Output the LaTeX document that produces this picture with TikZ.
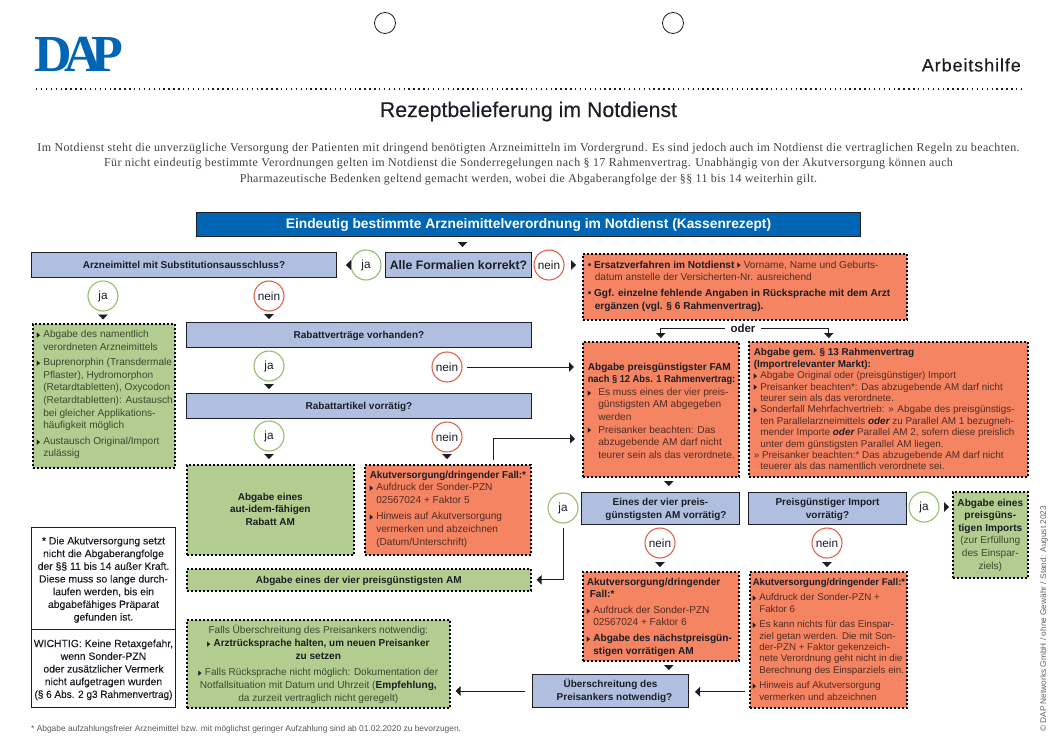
\documentclass[tikz,border=0pt]{standalone}
\usepackage{fontspec}
\setmainfont{Liberation Sans}
\newfontfamily\serifx[LetterSpace=3.2]{Liberation Serif}
\newfontfamily\logofont{Liberation Serif}
\newfontfamily\dejavu{DejaVu Sans}
\newfontfamily\medfont[FakeBold=0.25]{Liberation Sans}
\newfontfamily\arbfont[FakeBold=0.3,LetterSpace=5]{Liberation Sans}
\newfontfamily\titlefont[FakeBold=0.3]{Liberation Sans}
\usetikzlibrary{arrows.meta,calc}
\definecolor{hdrblue}{HTML}{0066B3}
\definecolor{qblue}{HTML}{B0BFE0}
\definecolor{okgreen}{HTML}{B3CC8F}
\definecolor{warnred}{HTML}{F58462}
\definecolor{ringgreen}{HTML}{96BC6E}
\definecolor{ringred}{HTML}{E0604C}
\definecolor{ink}{HTML}{1C1E26}
\definecolor{bodyg}{HTML}{3C4A32}
\definecolor{bodyr}{HTML}{4F2E24}
\newcommand{\fsz}[2]{\fontsize{#1}{#2}\selectfont}
\newcommand{\tb}{\makebox[6.5pt][l]{\raisebox{.1pt}{\textcolor{ink}{\scalebox{.62}[1]{\dejavu\fontsize{7.2}{7}\selectfont ▶}}}}}
\newcommand{\ind}{\hspace*{6.5pt}}
\newcommand{\bd}[1]{{\color{ink}\bfseries #1}}
\newcommand{\cnd}[2]{\scalebox{#1}[1]{#2}}
\newcommand{\bx}[9]{\pgfmathsetmacro\bxw{#5-#3}\pgfmathsetmacro\bxh{#6-#4}%
  \def\bxgo##1{\node[#2,anchor=north west,minimum width=\bxw pt,minimum height=\bxh pt,inner sep=0pt](#1) at (#3,#4){\makebox[\bxw pt][#7]{\hspace{#8pt}\raisebox{\dimexpr#9pt-.38em\relax}[0pt][0pt]{\begin{tabular}{@{}#7@{}}##1\end{tabular}}}};}\bxgo}
\tikzset{
  dotbox/.style={draw=black,line width=1.6pt,dash pattern=on 1.7pt off 2.3pt},
  grn/.style={dotbox,fill=okgreen,text=bodyg,font=\fsz{10.1}{12.6}},
  rd/.style={dotbox,fill=warnred,text=bodyr,font=\fsz{10.1}{12.6}},
  qb/.style={draw=ink,line width=1pt,fill=qblue,text=ink,font=\bfseries\fsz{10}{12.6}},
  whitebox/.style={draw=ink,line width=1pt,fill=white,text=ink,font=\medfont\fsz{10.4}{12.7}},
  yes/.style={circle,draw=ringgreen,line width=1.1pt,fill=white,minimum size=30pt,inner sep=0pt,text=ink,font=\fsz{11.8}{12}},
  no/.style={circle,draw=ringred,line width=1.1pt,fill=white,minimum size=30pt,inner sep=0pt,text=ink,font=\fsz{11.8}{12}},
  tip/.style={draw=ink,line width=.2pt,-{Triangle[length=5pt,width=9.5pt]}},
  conn/.style={draw=ink,line width=1pt,-{Triangle[length=5pt,width=9.5pt]}},
  hole/.style={circle,draw=ink,line width=.8pt,minimum size=21pt,inner sep=0pt},
}
\begin{document}
\begin{tikzpicture}[x=1pt,y=-1pt]
\useasboundingbox (0,0) rectangle (1061,747);
% header
\node[hole] (h1) at (385,23) {};
\node[hole] (h2) at (673,23) {};
\node[anchor=center,inner sep=0pt,text=hdrblue,font=\logofont\bfseries\fsz{52}{52}] (logo) at (79,54) {D\kern-.16em A\kern-.2em P};
\node[anchor=east,inner sep=0pt,text=ink,font=\arbfont\fsz{18}{18}] (arb) at (1021,65) {Arbeitshilfe};
\coordinate (dl) at (36,89); \coordinate (dr) at (1021,89);
\draw[ink,line width=1.4pt,dash pattern=on 1.4pt off 3.5pt] (dl) -- (dr);
\node[inner sep=0pt,text=ink,font=\titlefont\fsz{21.3}{22}] (title) at (528.5,111.5) {Rezeptbelieferung im Notdienst};
\node[inner sep=0pt,text=ink!85,font=\serifx\fsz{12}{15.7},align=center] (intro) at (528.5,164) {Im Notdienst steht die unverzügliche Versorgung der Patienten mit dringend benötigten Arzneimitteln im Vordergrund. Es sind jedoch auch im Notdienst die vertraglichen Regeln zu beachten.\\Für nicht eindeutig bestimmte Verordnungen gelten im Notdienst die Sonderregelungen nach § 17 Rahmenvertrag. Unabhängig von der Akutversorgung können auch\\Pharmazeutische Bedenken geltend gemacht werden, wobei die Abgaberangfolge der §§ 11 bis 14 weiterhin gilt.};
% blue
\bx{hdr}{draw=ink,line width=1pt,fill=hdrblue,text=white,font=\bfseries\fsz{13.8}{15}}{196}{212}{860}{236}{c}{0}{.5}{Eindeutig bestimmte Arzneimittelverordnung im Notdienst (Kassenrezept)}
\bx{subst}{qb}{31}{252}{336}{277}{c}{0}{0}{Arzneimittel mit Substitutionsausschluss?}
\bx{form}{qb,font=\bfseries\fsz{12.3}{14}}{385}{252}{531}{277}{c}{0}{0}{Alle Formalien korrekt?}
\bx{rabv}{qb}{186}{322}{531}{347}{c}{0}{0}{Rabattverträge vorhanden?}
\bx{raba}{qb}{186}{393}{531}{418}{c}{0}{0}{Rabattartikel vorrätig?}
\bx{eines}{qb}{581}{492}{739}{524}{c}{0}{0.5}{Eines der vier preis-\\\hspace*{11pt}günstigsten AM vorrätig?}
\bx{pimp}{qb}{748}{492}{906}{524}{c}{0}{0.5}{Preisgünstiger Import\\vorrätig?}
\bx{ueber}{qb}{532}{674}{688}{707}{c}{0}{1}{Überschreitung des\\\hspace*{8pt}Preisankers notwendig?}
% green
\bx{g1}{grn}{32}{323}{174}{467}{l}{4}{2.5}{\tb Abgabe des namentlich\\\ind verordneten Arzneimittels\\[3pt]\tb Buprenorphin (Transdermale\\\ind Pflaster), Hydromorphon\\\ind (Retardtabletten), Oxycodon\\\ind (Retardtabletten): Austausch\\\ind bei gleicher Applikations-\\\ind häufigkeit möglich\\[3pt]\tb Austausch Original/Import\\\ind zulässig}
\bx{g2}{grn,font=\bfseries\fsz{10}{12.6},text=ink}{186}{464}{353}{554}{c}{0}{.8}{Abgabe eines\\aut-idem-fähigen\\Rabatt AM}
\bx{g3}{grn,font=\bfseries\fsz{10}{12.6},text=ink}{186}{568}{530}{590}{c}{0}{0}{Abgabe eines der vier preisgünstigsten AM}
\bx{g4}{grn,font=\fsz{10.1}{12.8}}{186}{619}{449}{707}{c}{0}{0}{Falls Überschreitung des Preisankers notwendig:\\\tb\bd{\cnd{.98}{Arztrücksprache halten, um neuen Preisanker}}\\\bd{zu setzen}\\[3.7pt]\tb\cnd{.985}{Falls Rücksprache nicht möglich: Dokumentation der}\\Notfallsituation mit Datum und Uhrzeit (\bd{Empfehlung,}\\da zurzeit vertraglich nicht geregelt)}
\bx{g5}{grn}{952}{491}{1027}{577}{c}{0}{1}{\bd{Abgabe eines}\\\bd{preisgüns-}\\\bd{tigen Imports}\\(zur Erfüllung\\des Einspar-\\ziels)}
% red
\bx{r1}{rd}{582}{253}{906}{319}{l}{5}{2}{\bd{• Ersatzverfahren im Notdienst} \tb Vorname, Name und Geburts-\\\hspace*{7pt}datum anstelle der Versicherten-Nr. ausreichend\\[3.5pt]\bd{• Ggf. einzelne fehlende Angaben in Rücksprache mit dem Arzt}\\\hspace*{7pt}\bd{ergänzen (vgl. § 6 Rahmenvertrag).}}
\bx{fam}{rd}{582}{341}{738}{476}{l}{5}{-1}{\bd{Abgabe preisgünstigster FAM}\\\bd{\cnd{.92}{nach § 12 Abs. 1 Rahmenvertrag:}}\\\tb\hspace*{4pt}Es muss eines der vier preis-\\\hspace*{10.5pt}günstigsten AM abgegeben\\\hspace*{10.5pt}werden\\\tb\hspace*{4pt}Preisanker beachten: Das\\\hspace*{10.5pt}abzugebende AM darf nicht\\\hspace*{10.5pt}teurer sein als das verordnete.}
\bx{sec}{rd,font=\fsz{9.9}{11.4}}{748}{341}{1027}{476}{l}{5}{0}{\bd{Abgabe gem. § 13 Rahmenvertrag}\\\bd{(Importrelevanter Markt):}\\\tb Abgabe Original oder (preisgünstiger) Import\\\tb Preisanker beachten*: Das abzugebende AM darf nicht\\\ind teurer sein als das verordnete.\\\tb Sonderfall Mehrfachvertrieb: » Abgabe des preisgünstigs-\\\ind ten Parallelarzneimittels \bd{\itshape oder} zu Parallel AM 1 bezugneh-\\\ind mender Importe \bd{\itshape oder} Parallel AM 2, sofern diese preislich\\\ind unter dem günstigsten Parallel AM liegen.\\» Preisanker beachten:* Das abzugebende AM darf nicht\\\ind teuerer als das namentlich verordnete sei.}
\bx{r2}{rd}{364}{464}{530}{554}{l}{5}{2}{\bd{\cnd{.97}{Akutversorgung/dringender Fall:*}}\\\tb Aufdruck der Sonder-PZN\\\ind 02567024 + Faktor 5\\[4pt]\tb Hinweis auf Akutversorgung\\\ind vermerken und abzeichnen\\\ind (Datum/Unterschrift)}
\bx{r3}{rd}{582}{571}{738}{660}{l}{4}{.5}{\bd{Akutversorgung/dringender}\\\hspace*{3pt}\bd{Fall:*}\\[3pt]\tb Aufdruck der Sonder-PZN\\\ind 02567024 + Faktor 6\\[3pt]\tb\bd{Abgabe des nächstpreisgün-}\\\ind\bd{stigen vorrätigen AM}}
\bx{r4}{rd,font=\fsz{9.75}{11.4}}{749}{571}{906}{707}{l}{3}{.5}{\bd{\cnd{.98}{Akutversorgung/dringender Fall:*}}\\[4pt]\tb Aufdruck der Sonder-PZN +\\\ind Faktor 6\\[4pt]\tb Es kann nichts für das Einspar-\\\ind ziel getan werden. Die mit Son-\\\ind der-PZN + Faktor gekenzeich-\\\ind nete Verordnung geht nicht in die\\\ind Berechnung des Einsparziels ein.\\[4pt]\tb Hinweis auf Akutversorgung\\\ind vermerken und abzeichnen}
% white
\bx{w1}{whitebox}{31}{527}{175}{629}{c}{0}{0}{* Die Akutversorgung setzt\\nicht die Abgaberangfolge\\der §§ 11 bis 14 außer Kraft.\\Diese muss so lange durch-\\laufen werden, bis ein\\abgabefähiges Präparat\\gefunden ist.}
\bx{w2}{whitebox}{31}{629}{175}{707}{c}{0}{0}{WICHTIG: Keine Retaxgefahr,\\wenn Sonder-PZN\\oder zusätzlicher Vermerk\\nicht aufgetragen wurden\\\cnd{.96}{(§ 6 Abs. 2 g3 Rahmenvertrag)}}
% circles
\node[yes] (cj0) at (366,265) {ja};
\node[no] (cn0) at (549,265) {nein};
\node[yes] (cj1) at (103,296) {ja};
\node[no] (cn1) at (269,296) {nein};
\node[yes] (cj2) at (269,366) {ja};
\node[no] (cn2) at (447,367) {nein};
\node[yes] (cj3) at (269,436) {ja};
\node[no] (cn3) at (447,437) {nein};
\node[yes] (cj4) at (563,508) {ja};
\node[yes] (cj5) at (924,507) {ja};
\node[no] (cn4) at (660,543) {nein};
\node[no] (cn5) at (827,543) {nein};
% tips only
\draw[tip,shorten <=6pt,shorten >=5pt] ([xshift=4pt]form.north |- hdr.south) -- ([xshift=4pt]form.north);
\draw[tip,shorten <=.5pt,shorten >=9pt] (cj0.west) -- (cj0.west -| subst.east);
\draw[tip,shorten <=7pt,shorten >=6pt] (cn0.east) -- (cn0.east -| r1.west);
\draw[tip,shorten <=3pt,shorten >=3.5pt] (cj1.south) -- (cj1.south |- g1.north);
\draw[tip,shorten <=3pt,shorten >=3pt] (cn1.south) -- (cn1.south |- rabv.north);
\draw[tip,shorten <=3pt,shorten >=4pt] (cj2.south) -- (cj2.south |- raba.north);
\draw[tip,shorten <=3pt,shorten >=5pt] (cj3.south) -- (cj3.south |- g2.north);
\draw[tip,shorten <=2pt,shorten >=5pt] (cn3.south) -- (cn3.south |- r2.north);
\draw[tip,shorten <=6pt,shorten >=6pt] ([xshift=8pt]fam.south) -- ([xshift=8pt]fam.south |- eines.north);
\draw[tip,shorten <=4pt,shorten >=4pt] (cn4.south) -- (cn4.south |- r3.north);
\draw[tip,shorten <=4pt,shorten >=4pt] (cn5.south) -- (cn5.south |- r4.north);
\draw[tip,shorten <=5pt,shorten >=3pt] (cj5.east) -- (cj5.east -| g5.west);
\draw[tip,shorten <=5pt,shorten >=4pt] ([xshift=8pt]r3.south) -- ([xshift=8pt]r3.south |- ueber.north);
% oder
\node[inner sep=0pt,inner xsep=5pt,text=ink,font=\bfseries\fsz{11.5}{12}] (oder) at (743,328) {oder};
\draw[conn,shorten >=3pt] (oder.west) -| (fam.north);
\draw[conn,shorten >=3pt] (oder.east) -| ([xshift=-59.5pt]sec.north);
% connectors
\draw[conn,shorten <=4pt,shorten >=8pt] (cn2.east) -- (cn2.east -| fam.west);
\draw[conn,shorten <=4pt,shorten >=7pt] ([xshift=46pt]r2.north) |- ([yshift=-29.5pt]fam.west);
\draw[conn,shorten <=4pt,shorten >=5pt] (cj4.south) |- (g3.east);
\draw[conn,shorten <=4pt,shorten >=6pt] ([yshift=-52pt]r4.west) -- ([yshift=-52pt]r4.west -| ueber.east);
\draw[conn,shorten <=7pt,shorten >=5pt] (ueber.west) -- (ueber.west -| g4.east);
% footer
\node[anchor=west,inner sep=0pt,text=ink!75,font=\fsz{8.4}{9}] (foot) at (31,729) {* Abgabe aufzahlungsfreier Arzneimittel bzw. mit möglichst geringer Aufzahlung sind ab 01.02.2020 zu bevorzugen.};
\node[anchor=west,rotate=90,inner sep=0pt,text=ink!70,font=\fsz{8.3}{9}] (side) at (1044,732) {© DAP Networks GmbH / ohne Gewähr / Stand: August 2023};
\end{tikzpicture}
\end{document}
